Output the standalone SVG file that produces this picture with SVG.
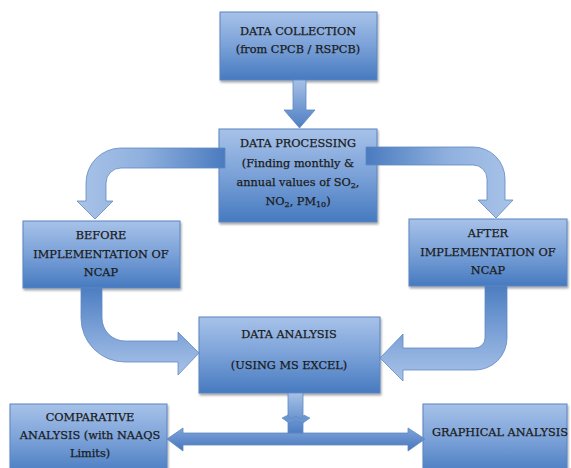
<svg xmlns="http://www.w3.org/2000/svg" width="571" height="468" viewBox="0 0 571 468">
<defs>
  <linearGradient id="boxg" x1="0" y1="0" x2="0" y2="1">
    <stop offset="0" stop-color="#a7c2e9"/>
    <stop offset="0.5" stop-color="#7aa1d8"/>
    <stop offset="1" stop-color="#467abf"/>
  </linearGradient>
  <linearGradient id="gTL" x1="1" y1="0" x2="0" y2="0">
    <stop offset="0" stop-color="#4a7bbf"/>
    <stop offset="0.55" stop-color="#8fb0de"/>
    <stop offset="1" stop-color="#a9c3e8"/>
  </linearGradient>
  <linearGradient id="gTR" x1="0" y1="0" x2="1" y2="0">
    <stop offset="0" stop-color="#4a7bbf"/>
    <stop offset="0.55" stop-color="#8fb0de"/>
    <stop offset="1" stop-color="#a9c3e8"/>
  </linearGradient>
  <linearGradient id="gLow" x1="0" y1="0" x2="0" y2="1">
    <stop offset="0" stop-color="#4d7ec1"/>
    <stop offset="0.6" stop-color="#86a9db"/>
    <stop offset="1" stop-color="#a8c2e7"/>
  </linearGradient>
  <linearGradient id="gDown" x1="0" y1="0" x2="0" y2="1">
    <stop offset="0" stop-color="#a6c0e6"/>
    <stop offset="1" stop-color="#4d7ec2"/>
  </linearGradient>
  <linearGradient id="gBar" x1="0" y1="0" x2="0" y2="1">
    <stop offset="0" stop-color="#7fa4d9"/>
    <stop offset="1" stop-color="#4676bd"/>
  </linearGradient>
  <filter id="sh" x="-10%" y="-10%" width="130%" height="140%">
    <feDropShadow dx="1" dy="2" stdDeviation="1.2" flood-color="#000" flood-opacity="0.35"/>
  </filter>
</defs>
<style>
  .box { fill: url(#boxg); stroke: #5b84bf; stroke-width: 1; filter: url(#sh); }
  .t { font-family: "DejaVu Serif", "Liberation Serif", serif; font-size: 11.3px; fill: #1a1a1a; stroke: #1a1a1a; stroke-width: 0.25; text-anchor: middle; }
  .arr { stroke: #5e88c3; stroke-width: 0.8; }
</style>
<rect width="571" height="468" fill="#ffffff"/>

<g id="nodes">
  <g id="data-collection">
    <rect class="box" x="220" y="12" width="157" height="68"/>
    <text class="t" x="298" y="34.5">DATA COLLECTION</text>
    <text class="t" x="298" y="52.5">(from CPCB / RSPCB)</text>
  </g>
  <g id="data-processing">
    <rect class="box" x="219" y="129" width="158" height="93"/>
    <text class="t" x="298" y="147">DATA PROCESSING</text>
    <text class="t" x="298" y="167">(Finding monthly &amp;</text>
    <text class="t" x="298" y="186">annual values of SO<tspan font-size="8" dy="2">2</tspan><tspan dy="-2">,</tspan></text>
    <text class="t" x="298" y="205">NO<tspan font-size="8" dy="2">2</tspan><tspan dy="-2">, PM</tspan><tspan font-size="8" dy="2">10</tspan><tspan dy="-2">)</tspan></text>
  </g>
  <g id="before-ncap">
    <rect class="box" x="23" y="221" width="157" height="67"/>
    <text class="t" x="101" y="239">BEFORE</text>
    <text class="t" x="101" y="258">IMPLEMENTATION OF</text>
    <text class="t" x="101" y="276">NCAP</text>
  </g>
  <g id="after-ncap">
    <rect class="box" x="409" y="219" width="158" height="67"/>
    <text class="t" x="488" y="237">AFTER</text>
    <text class="t" x="488" y="256">IMPLEMENTATION OF</text>
    <text class="t" x="488" y="274">NCAP</text>
  </g>
  <g id="data-analysis">
    <rect class="box" x="199" y="317" width="181" height="76"/>
    <text class="t" x="289" y="338">DATA ANALYSIS</text>
    <text class="t" x="289" y="369">(USING MS EXCEL)</text>
  </g>
  <g id="comparative-analysis">
    <rect class="box" x="10" y="404" width="157" height="72"/>
    <text class="t" x="90" y="421">COMPARATIVE</text>
    <text class="t" x="90" y="439">ANALYSIS (with NAAQS</text>
    <text class="t" x="90" y="457">Limits)</text>
  </g>
  <g id="graphical-analysis">
    <rect class="box" x="423" y="404" width="144" height="72"/>
    <text class="t" x="500" y="436">GRAPHICAL ANALYSIS</text>
  </g>
</g>

<g id="connectors">
  <path class="arr" fill="url(#gDown)" d="M293 80 L306 80 L306 110 L315 110 L299.5 128 L284 110 L293 110 Z"/>
  <path class="arr" fill="url(#gTL)" d="M225 148 L121 148 A35 35 0 0 0 86 183 L86 201 L77 201 L95 219 L113 201 L106 201 L106 183 A15 15 0 0 1 121 168 L225 168 Z"/>
  <path class="arr" fill="url(#gTR)" d="M366 147 L473 147 A32 32 0 0 1 505 179 L505 200 L513 200 L496 218 L478 200 L487 200 L487 179 A14 14 0 0 0 473 165 L366 165 Z"/>
  <path class="arr" fill="url(#gLow)" d="M81 288 L81 318 A44 44 0 0 0 125 362 L178 362 L178 375 L199 353 L178 332 L178 341 L125 341 A23 23 0 0 1 102 318 L102 288 Z"/>
  <path class="arr" fill="url(#gLow)" d="M507 286 L507 338 A32 32 0 0 1 475 370 L403 370 L403 381 L380 358 L403 334 L403 348 L475 348 A10 10 0 0 0 485 338 L485 286 Z"/>
  <path class="arr" fill="url(#gBar)" d="M183 433 L408 433 L408 428 L425 439 L408 451 L408 445 L183 445 L183 451 L167 439 L183 428 Z"/>
  <path class="arr" fill="url(#gDown)" d="M288 393 L303 393 L303 433 L288 433 Z"/>
  <path fill="#6b95d0" stroke="#5e88c3" stroke-width="0.6" d="M282 418 L288 415 L291 419 L296 416 L301 419 L304 415 L310 418 L303 423 L296 421 L289 423 Z"/>
</g>
</svg>
